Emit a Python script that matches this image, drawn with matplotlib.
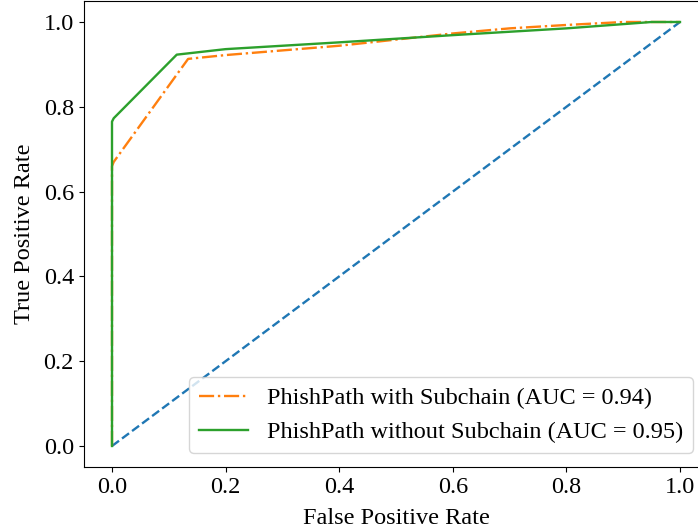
import numpy as np
import matplotlib
matplotlib.use("Agg")
import matplotlib.pyplot as plt

plt.rcParams['font.family'] = ['Liberation Serif', 'DejaVu Serif']
plt.rcParams['font.size'] = 17.5

# ROC points
fpr_with = [0.0, 0.0, 0.003, 0.134, 0.2, 0.4, 0.6, 0.7, 0.8, 0.9, 1.0]
tpr_with = [0.0, 0.66, 0.67, 0.913, 0.922, 0.944, 0.973, 0.985, 0.993, 1.0, 1.0]
fpr_without = [0.0, 0.0, 0.003, 0.114, 0.2, 0.4, 0.6, 0.8, 0.95, 1.0]
tpr_without = [0.0, 0.765, 0.773, 0.923, 0.936, 0.952, 0.969, 0.985, 1.0, 1.0]
auc_with = 0.94
auc_without = 0.95

W, H = 698, 531
fig = plt.figure(figsize=(W / 100, H / 100), dpi=100)
# axes runs a little past the right edge, as in the cropped original
ax = fig.add_axes([83.6 / W, (H - 467.2) / H, 624.8 / W, 466.4 / H])

ax.plot([0, 1], [0, 1], linestyle='--', color='tab:blue', lw=1.7)
ax.plot(fpr_with, tpr_with, linestyle='-.', color='tab:orange', lw=1.7,
        label=f'PhishPath with Subchain (AUC = {auc_with:.2f})')
ax.plot(fpr_without, tpr_without, linestyle='-', color='tab:green', lw=1.7,
        label=f'PhishPath without Subchain (AUC = {auc_without:.2f})')

ax.set_xlabel('False Positive Rate', labelpad=7)
ax.set_ylabel('True Positive Rate', labelpad=6)
ax.set_xlim(-0.05, 1.05)
ax.set_ylim(-0.05, 1.05)

ax.legend(loc='lower right', bbox_to_anchor=(693 / W, (H - 453) / H),
          bbox_transform=fig.transFigure, borderaxespad=0)

fig.savefig('out.png', dpi=100)
